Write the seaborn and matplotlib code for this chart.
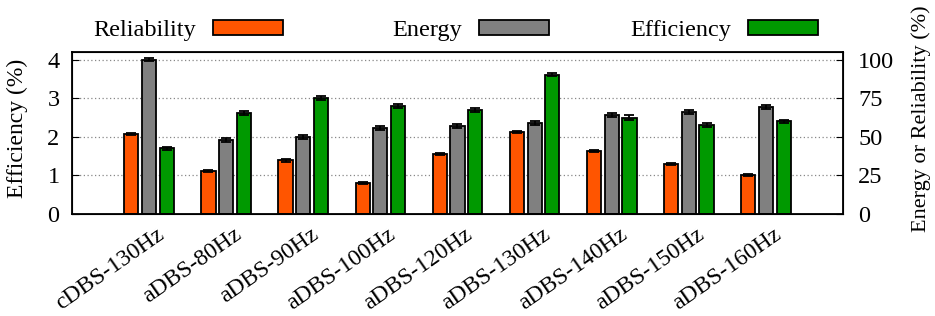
import matplotlib
matplotlib.use("Agg")
import matplotlib.pyplot as plt
import matplotlib.transforms as mtransforms
from matplotlib.patches import Patch
import seaborn as sns
import pandas as pd

# values on the efficiency scale (left axis, 0-4); right axis is x25
configs = ["cDBS-130Hz", "aDBS-80Hz", "aDBS-90Hz", "aDBS-100Hz", "aDBS-120Hz",
           "aDBS-130Hz", "aDBS-140Hz", "aDBS-150Hz", "aDBS-160Hz"]
reliability = [2.08, 1.11, 1.39, 0.80, 1.56, 2.13, 1.64, 1.29, 1.01]
energy = [4.00, 1.92, 2.00, 2.24, 2.29, 2.36, 2.57, 2.64, 2.77]
efficiency = [1.70, 2.61, 3.01, 2.80, 2.70, 3.61, 2.50, 2.30, 2.41]
reliability_err = [0.03, 0.03, 0.03, 0.03, 0.03, 0.03, 0.03, 0.03, 0.03]
energy_err = [0.04, 0.05, 0.05, 0.05, 0.05, 0.05, 0.05, 0.05, 0.05]
efficiency_err = [0.04, 0.05, 0.05, 0.06, 0.05, 0.04, 0.06, 0.05, 0.04]

series = ["Reliability", "Energy", "Efficiency"]
colors = ["#ff5500", "#808080", "#009900"]

df = pd.DataFrame({
    "config": configs * 3,
    "metric": [s for s in series for _ in configs],
    "value": reliability + energy + efficiency,
    "err": reliability_err + energy_err + efficiency_err,
})

FS = 17.5
plt.rcParams["font.family"] = ["Liberation Serif", "DejaVu Serif"]
fig = plt.figure(figsize=(9.35, 3.16), dpi=100)
ax = fig.add_axes([0.077, 0.323, 0.8246, 0.512])

sns.barplot(data=df, x="config", y="value", hue="metric", hue_order=series,
            palette=colors, width=0.69, gap=0.2, errorbar=None, legend=False,
            edgecolor="black", linewidth=1.3, saturation=1, ax=ax)

# error bars at each bar centre (patches are added hue level by hue level)
bars = [p for p in ax.patches if p.get_height() > 0]
xs = [p.get_x() + p.get_width() / 2 for p in bars]
ys = [p.get_height() for p in bars]
ax.errorbar(xs, ys, yerr=df["err"].tolist(), fmt="none", ecolor="black",
            elinewidth=1.3, capsize=3.5, capthick=1.3, zorder=5)

ax.set_xlim(-1, len(configs))
ax.set_ylim(0, 4.2)
ax.set_yticks([0, 1, 2, 3, 4])
ax.set_xlabel("")
ax.set_ylabel("Efficiency (%)", fontsize=FS - 0.5, labelpad=14)
ax.yaxis.label.set_y(0.53)
ax.grid(axis="y", linestyle=(0, (1, 2)), color="#888888", linewidth=0.9)
ax.set_axisbelow(True)
ax.tick_params(axis="y", direction="in", length=5, labelsize=FS, pad=9)
ax.tick_params(axis="x", direction="in", length=0, labelsize=17, pad=7)
ax.set_xticks(range(len(configs)))
ax.set_xticklabels(configs, rotation=35, ha="right", va="top", rotation_mode="anchor")
shift = mtransforms.ScaledTranslation(0.07, 0, fig.dpi_scale_trans)
for lbl in ax.get_xticklabels():
    lbl.set_transform(lbl.get_transform() + shift)
for s in ax.spines.values():
    s.set_linewidth(1.3)

ax2 = ax.twinx()
ax2.set_ylim(0, 4.2 * 25)
ax2.set_yticks([0, 25, 50, 75, 100])
ax2.set_ylabel("Energy or Reliability (%)", fontsize=16, labelpad=12)
ax2.yaxis.label.set_y(0.59)
ax2.tick_params(axis="y", direction="in", length=5, labelsize=FS, pad=11)

# gnuplot-style key: text right-aligned before each swatch, fixed column widths
swatch_right = [283 / 935, 549 / 935, 818 / 935]
for name, c, xr in zip(series, colors, swatch_right):
    h = Patch(facecolor=c, edgecolor="black", linewidth=1.3)
    fig.legend([h], [name], loc="center right", bbox_to_anchor=(xr, 0.903),
               frameon=False, markerfirst=False, fontsize=FS, handlelength=2.9,
               handleheight=0.55, handletextpad=0.66, borderpad=0, borderaxespad=0)

fig.savefig("out.png", dpi=100)
